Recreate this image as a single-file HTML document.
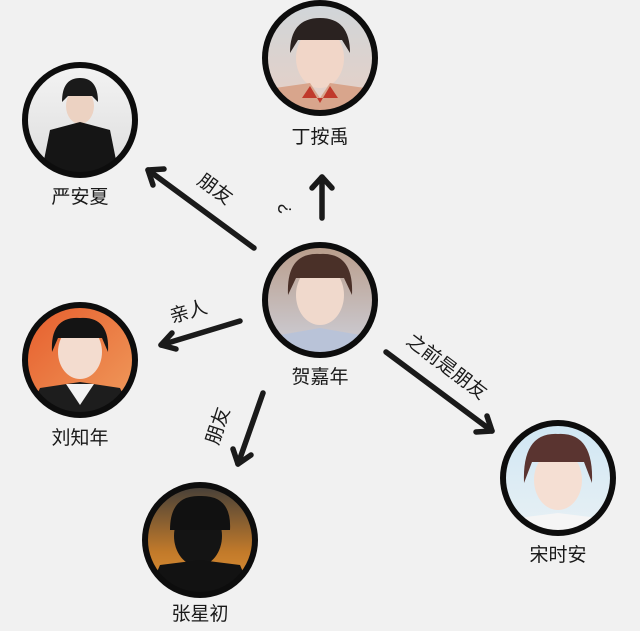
<!DOCTYPE html>
<html><head><meta charset="utf-8"><style>
html,body{margin:0;padding:0;background:#f1f1f1;}
svg{display:block}
text{font-family:"Liberation Sans","Noto Sans CJK SC",sans-serif;fill:#1a1a1a;}
</style></head><body>
<svg width="640" height="631" viewBox="0 0 640 631">
<defs>
<linearGradient id="g1" x1="0" y1="0" x2="0" y2="1"><stop offset="0" stop-color="#cfd6da"/><stop offset="1" stop-color="#e8cfc4"/></linearGradient>
<linearGradient id="g2" x1="0" y1="0" x2="0" y2="1"><stop offset="0" stop-color="#f4f4f4"/><stop offset="1" stop-color="#dcdcdc"/></linearGradient>
<linearGradient id="g3" x1="0" y1="0" x2="0" y2="1"><stop offset="0" stop-color="#b89a86"/><stop offset="1" stop-color="#cfd3df"/></linearGradient>
<linearGradient id="g4" x1="0" y1="0" x2="1" y2="1"><stop offset="0" stop-color="#e65a2a"/><stop offset="1" stop-color="#f0a060"/></linearGradient>
<linearGradient id="g5" x1="0" y1="0" x2="0" y2="1"><stop offset="0" stop-color="#3a3a3a"/><stop offset="0.6" stop-color="#c27a2a"/><stop offset="1" stop-color="#e79a3a"/></linearGradient>
<linearGradient id="g6" x1="0" y1="0" x2="0" y2="1"><stop offset="0" stop-color="#cfe6f3"/><stop offset="1" stop-color="#e9f1f5"/></linearGradient>
<clipPath id="c"><circle cx="0" cy="0" r="55"/></clipPath>
</defs>

<!-- 丁按禹 -->
<g transform="translate(320,58)"><g clip-path="url(#c)"><rect x="-60" y="-60" width="120" height="120" fill="url(#g1)"/><ellipse cx="0" cy="0" rx="24" ry="30" fill="#f1d6c8"/><path d="M-30 -5 Q-30 -40 0 -40 Q30 -40 30 -5 L22 -18 L-22 -18Z" fill="#2a2220"/><path d="M-55 60 L-45 30 L-10 25 L0 40 L10 25 L45 30 L55 60Z" fill="#d8a58c"/><path d="M-10 28 L0 45 L10 28 L18 40 L-18 40Z" fill="#c0392b"/></g><circle r="55" fill="none" stroke="#0d0d0d" stroke-width="6"/></g>
<text x="320" y="143" font-size="19" text-anchor="middle">丁按禹</text>

<!-- 严安夏 -->
<g transform="translate(80,120)"><g clip-path="url(#c)"><rect x="-60" y="-60" width="120" height="120" fill="url(#g2)"/><ellipse cx="0" cy="-14" rx="14" ry="18" fill="#ecd2c2"/><path d="M-18 -18 Q-18 -42 0 -42 Q18 -42 18 -18 L12 -24 L-12 -24Z" fill="#1a1a1a"/><path d="M-40 60 L-30 10 L0 2 L30 10 L40 60Z" fill="#151515"/></g><circle r="55" fill="none" stroke="#0d0d0d" stroke-width="6"/></g>
<text x="80" y="203" font-size="19" text-anchor="middle">严安夏</text>

<!-- 贺嘉年 -->
<g transform="translate(320,300)"><g clip-path="url(#c)"><rect x="-60" y="-60" width="120" height="120" fill="url(#g3)"/><ellipse cx="0" cy="-5" rx="24" ry="30" fill="#f0d9cc"/><path d="M-32 -5 Q-34 -48 0 -46 Q34 -48 32 -5 L24 -22 L-24 -22Z" fill="#4a3028"/><path d="M-55 60 L-40 35 L0 28 L40 35 L55 60Z" fill="#b9c3d8"/></g><circle r="55" fill="none" stroke="#0d0d0d" stroke-width="6"/></g>
<text x="320" y="383" font-size="19" text-anchor="middle">贺嘉年</text>

<!-- 刘知年 -->
<g transform="translate(80,360)"><g clip-path="url(#c)"><rect x="-60" y="-60" width="120" height="120" fill="url(#g4)"/><ellipse cx="0" cy="-8" rx="22" ry="27" fill="#f3dccf"/><path d="M-28 -8 Q-30 -44 0 -42 Q30 -44 28 -8 L22 -22 L-22 -22Z" fill="#141414"/><path d="M-55 60 L-40 28 L0 22 L40 28 L55 60Z" fill="#1d1d1d"/><path d="M-14 24 L0 45 L14 24Z" fill="#f2f2f2"/></g><circle r="55" fill="none" stroke="#0d0d0d" stroke-width="6"/></g>
<text x="80" y="444" font-size="19" text-anchor="middle">刘知年</text>

<!-- 张星初 -->
<g transform="translate(200,540)"><g clip-path="url(#c)"><rect x="-60" y="-60" width="120" height="120" fill="url(#g5)"/><ellipse cx="-2" cy="-4" rx="24" ry="30" fill="#141414"/><path d="M-30 -10 Q-30 -45 0 -44 Q32 -45 30 -10Z" fill="#111"/><path d="M-55 60 L-40 25 L0 20 L40 25 L55 60Z" fill="#121212"/></g><circle r="55" fill="none" stroke="#0d0d0d" stroke-width="6"/></g>
<text x="200" y="620" font-size="19" text-anchor="middle">张星初</text>

<!-- 宋时安 -->
<g transform="translate(558,478)"><g clip-path="url(#c)"><rect x="-60" y="-60" width="120" height="120" fill="url(#g6)"/><ellipse cx="0" cy="2" rx="24" ry="30" fill="#f5dfd3"/><path d="M-34 5 Q-36 -46 0 -44 Q36 -46 34 5 L26 -16 L-26 -16Z" fill="#5a3430"/><path d="M-55 60 L-40 40 L0 35 L40 40 L55 60Z" fill="#f5f5f5"/></g><circle r="55" fill="none" stroke="#0d0d0d" stroke-width="6"/></g>
<text x="558" y="561" font-size="19" text-anchor="middle">宋时安</text>

<!-- arrows -->
<g stroke="#1a1a1a" stroke-width="5.5" stroke-linecap="round" stroke-linejoin="round" fill="none">
<line x1="254" y1="248" x2="148" y2="170"/><polyline points="164,169 148,170 153,185"/>
<line x1="322" y1="218" x2="322" y2="177"/><polyline points="312,188 322,177 332,188"/>
<line x1="240" y1="321" x2="161" y2="345"/><polyline points="172,333 161,345 176,349"/>
<line x1="263" y1="393" x2="238" y2="464"/><polyline points="233,449 238,464 251,455"/>
<line x1="386" y1="352" x2="492" y2="431"/><polyline points="476,432 492,431 487,416"/>
</g>
<text font-size="19" transform="translate(196,183) rotate(36)">朋友</text>
<text font-size="18" transform="translate(291,214) rotate(-90)">?</text>
<text font-size="19" transform="translate(172,323) rotate(-16)">亲人</text>
<text font-size="19" transform="translate(218,446) rotate(-72)">朋友</text>
<text font-size="19" transform="translate(405,343) rotate(37)">之前是朋友</text>
</svg>
</body></html>
